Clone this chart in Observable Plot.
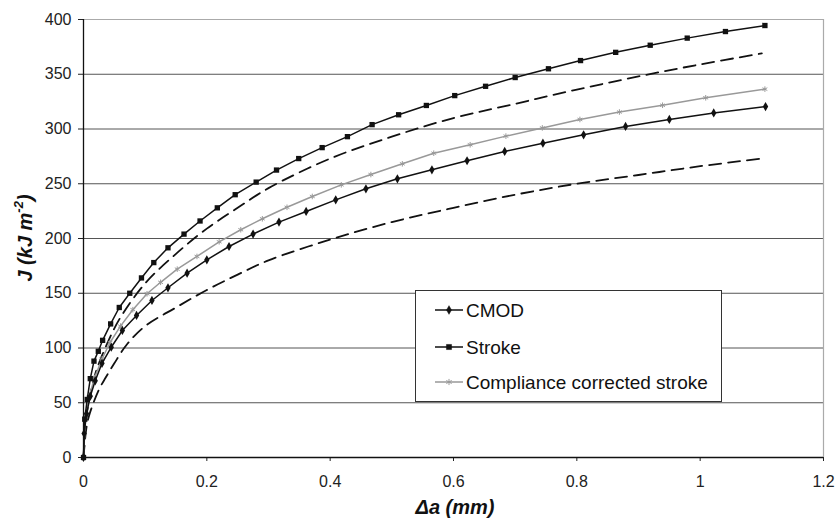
<!DOCTYPE html>
<html>
<head>
<meta charset="utf-8">
<script src="https://cdn.jsdelivr.net/npm/d3@7"></script>
<script src="https://cdn.jsdelivr.net/npm/@observablehq/plot@0.6"></script>
<style>
  html, body { margin: 0; padding: 0; background: #fff; }
  #chart { width: 836px; height: 522px; }
</style>
</head>
<body>
<div id="chart"></div>
<script>
// ---- Data ----
const seriesNames = ["CMOD", "Stroke", "Compliance corrected stroke"];

const strokeX = [0, 0.002, 0.006, 0.011, 0.017, 0.024, 0.031, 0.044, 0.058, 0.075, 0.094, 0.114, 0.137, 0.163, 0.189, 0.217, 0.246, 0.280, 0.313, 0.349, 0.387, 0.428, 0.468, 0.511, 0.556, 0.602, 0.652, 0.700, 0.754, 0.806, 0.863, 0.919, 0.979, 1.041, 1.105];
const strokeJ = [0, 35, 53, 72, 88, 97, 107, 122, 137, 150, 164, 178, 191.5, 204, 216, 228, 240, 251.5, 262.5, 273, 283, 293, 304, 313, 321.5, 330.5, 339, 347, 355, 362.5, 370, 376.5, 383, 389, 394.5];

const cmodX = [0, 0.001, 0.005, 0.011, 0.019, 0.030, 0.045, 0.063, 0.086, 0.111, 0.137, 0.168, 0.200, 0.236, 0.275, 0.317, 0.361, 0.409, 0.458, 0.509, 0.565, 0.622, 0.683, 0.745, 0.811, 0.879, 0.950, 1.022, 1.106];
const cmodJ = [0, 22, 40, 56, 70, 86, 100.7, 116, 129.7, 143.4, 155, 168.3, 180.5, 192.7, 204, 215, 224.7, 235.3, 245.4, 254.5, 262.7, 271, 279.5, 287, 294.7, 302.3, 308.7, 314.7, 320.5];

const corrX = [0, 0.003, 0.009, 0.018, 0.030, 0.043, 0.060, 0.080, 0.103, 0.125, 0.152, 0.184, 0.220, 0.255, 0.290, 0.330, 0.371, 0.418, 0.466, 0.517, 0.568, 0.627, 0.685, 0.744, 0.805, 0.869, 0.939, 1.009, 1.105];
const corrJ = [0, 35, 55, 73, 90, 105, 120, 135, 149.5, 160, 172, 183.6, 197, 208, 218, 228.5, 238.4, 249, 258.4, 268.2, 277.9, 285.6, 293.5, 301, 308.7, 315.5, 321.7, 328.5, 336.4];

const fitUpperX = [0, 0.005, 0.01, 0.02, 0.04, 0.06, 0.1, 0.15, 0.2, 0.25, 0.3, 0.4, 0.5, 0.6, 0.7, 0.8, 0.9, 1.0, 1.1];
const fitUpperJ = [0, 38, 55, 78, 106, 128, 159, 186, 209, 228, 246, 273, 293, 310, 323, 336, 348, 359, 369];

const fitLowerX = [0, 0.005, 0.01, 0.025, 0.036, 0.05, 0.07, 0.1, 0.15, 0.2, 0.25, 0.3, 0.4, 0.5, 0.6, 0.7, 0.8, 0.9, 1.0, 1.1];
const fitLowerJ = [0, 28, 40, 62, 73, 86, 103, 120, 137, 153, 167, 180, 199, 215, 228, 240, 250, 258, 266, 273];

const xTicks = [0, 0.2, 0.4, 0.6, 0.8, 1, 1.2];
const yTicks = [0, 50, 100, 150, 200, 250, 300, 350, 400];
const yGrid = [50, 100, 150, 200, 250, 300, 350];

// ---- Build tables ----
const zip = (xs, ys) => xs.map((x, i) => ({x, y: ys[i]}));
const stroke = zip(strokeX, strokeJ);
const cmod = zip(cmodX, cmodJ);
const corr = zip(corrX, corrJ);
const fitU = zip(fitUpperX, fitUpperJ);
const fitL = zip(fitLowerX, fitLowerJ);

const FONT = "'Liberation Sans', Arial, Helvetica, sans-serif";

// legend as a render mark
function legendMark() {
  return () => {
    const g = d3.create("svg:g").attr("text-anchor", "start");
    const bx = 415.5, by = 290.5, bw = 306, bh = 111;
    g.append("rect").attr("x", bx).attr("y", by).attr("width", bw).attr("height", bh)
      .attr("fill", "#fff").attr("stroke", "#333").attr("stroke-width", 1);
    const rows = [
      {name: seriesNames[0], y: 310, color: "#111", sym: d3.symbolDiamond, size: 22, fill: true},
      {name: seriesNames[1], y: 347, color: "#111", sym: d3.symbolSquare, size: 26, fill: true},
      {name: seriesNames[2], y: 382, color: "#999", sym: d3.symbolAsterisk, size: 26, fill: false}
    ];
    for (const r of rows) {
      g.append("line").attr("x1", 435).attr("x2", 463).attr("y1", r.y).attr("y2", r.y)
        .attr("stroke", r.color).attr("stroke-width", 1.5);
      g.append("path").attr("d", d3.symbol(r.sym, r.size)())
        .attr("transform", `translate(449,${r.y})`)
        .attr("fill", r.fill ? r.color : "none").attr("stroke", r.color).attr("stroke-width", r.fill ? 0.5 : 1);
      g.append("text").attr("x", 466).attr("y", r.y).attr("dy", "0.35em")
        .attr("text-anchor", "start")
        .attr("font-size", 19).attr("font-family", FONT).attr("fill", "#111").text(r.name);
    }
    return g.node();
  };
}

function titlesMark() {
  return () => {
    const g = d3.create("svg:g").attr("font-family", FONT).attr("font-weight", "bold")
      .attr("font-style", "italic").attr("fill", "#111");
    g.append("text").attr("x", 455).attr("y", 507).attr("dy", "0.35em")
      .attr("text-anchor", "middle").attr("font-size", 20).text("Δa (mm)");
    const t = g.append("text").attr("transform", "translate(25,238) rotate(-90)")
      .attr("text-anchor", "middle").attr("dy", "0.35em").attr("font-size", 20);
    t.append("tspan").text("J (kJ m");
    t.append("tspan").attr("font-size", 13).attr("dy", "-0.7em").text("-2");
    t.append("tspan").attr("dy", "0.45em").text(")");
    return g.node();
  };
}

const chart = Plot.plot({
  width: 836,
  height: 522,
  marginLeft: 83,
  marginRight: 13,
  marginTop: 19,
  marginBottom: 65,
  style: {fontFamily: FONT, fontSize: "16px", color: "#222", background: "#fff"},
  x: {domain: [0, 1.2]},
  y: {domain: [0, 400]},
  marks: [
    Plot.ruleY(yGrid, {stroke: "#555", strokeWidth: 1}),
    Plot.ruleY([400], {stroke: "#aaa", strokeWidth: 1.2}),
    Plot.ruleX([1.2], {stroke: "#aaa", strokeWidth: 1.2}),
    Plot.axisY({ticks: yTicks, tickSize: 5, tickPadding: 7, fontSize: 16, label: null, stroke: "#222"}),
    Plot.axisX({ticks: xTicks, tickSize: 4, tickPadding: 14, fontSize: 16, label: null, tickFormat: d3.format("~g"), stroke: "#222"}),
    Plot.ruleX([0], {stroke: "#111", strokeWidth: 1.3}),
    Plot.ruleY([0], {stroke: "#111", strokeWidth: 1.3}),
    // fitted dashed curves
    Plot.line(fitU, {x: "x", y: "y", stroke: "#111", strokeWidth: 1.8, strokeDasharray: "12,7", curve: "catmull-rom"}),
    Plot.line(fitL, {x: "x", y: "y", stroke: "#111", strokeWidth: 1.8, strokeDasharray: "12,7", curve: "catmull-rom"}),
    // compliance corrected stroke (grey)
    Plot.line(corr, {x: "x", y: "y", stroke: "#999", strokeWidth: 1.5}),
    Plot.dot(corr, {x: "x", y: "y", symbol: "asterisk", r: 2.6, stroke: "#999", strokeWidth: 1}),
    // CMOD
    Plot.line(cmod, {x: "x", y: "y", stroke: "#111", strokeWidth: 1.5}),
    Plot.dot(cmod, {x: "x", y: "y", symbol: "diamond", r: 2.8, fill: "#111", stroke: "none"}),
    // Stroke
    Plot.line(stroke, {x: "x", y: "y", stroke: "#111", strokeWidth: 1.5}),
    Plot.dot(stroke, {x: "x", y: "y", symbol: "square", r: 3, fill: "#111", stroke: "none"}),
    legendMark(),
    titlesMark()
  ]
});
document.getElementById("chart").appendChild(chart);
</script>
</body>
</html>
